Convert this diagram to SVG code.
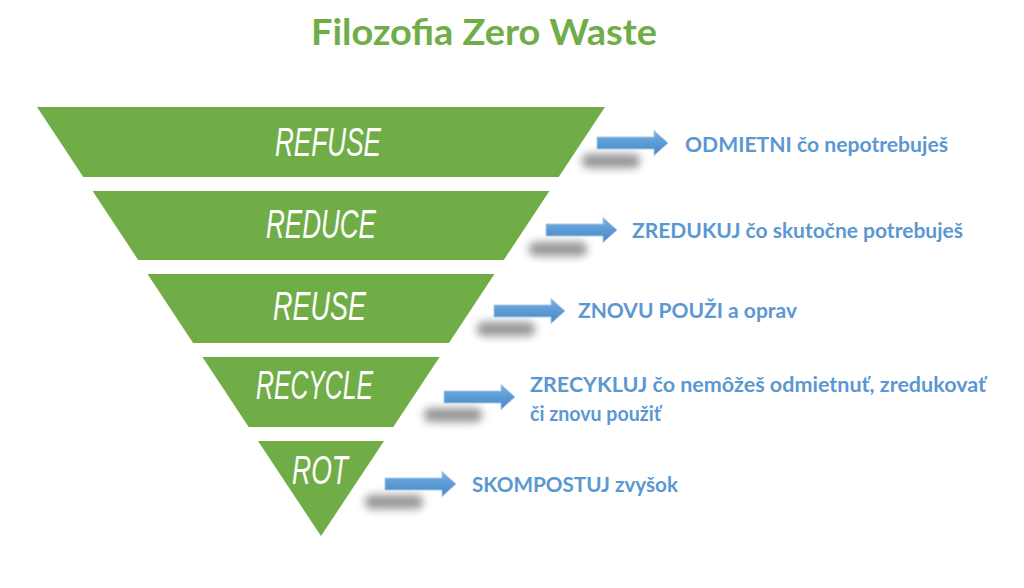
<svg xmlns="http://www.w3.org/2000/svg" width="1024" height="588" viewBox="0 0 1024 588">
  <style>
    .band { fill: #70AD47; }
    .tier { font-family: "Liberation Sans", Arial, sans-serif; font-style: italic; font-size: 40px; fill: #ffffff; }
    .desc { font-family: Lato, "Open Sans", "Liberation Sans", sans-serif; font-weight: 700; font-size: 20px; fill: #5B98D2; }
    .title { font-family: Lato, "Open Sans", "Liberation Sans", sans-serif; font-weight: 700; font-size: 36px; fill: #70AD47; }
    .arrow { fill: url(#blueGrad); stroke: #A9CBEB; stroke-width: 1; }
    .shadow { fill: #7a7a7a; opacity: 0.8; filter: url(#blur); }
  </style>
  <defs>
    <linearGradient id="blueGrad" x1="0" y1="0" x2="0" y2="1">
      <stop offset="0" stop-color="#7FB1E3"/>
      <stop offset="0.5" stop-color="#5B9BD5"/>
      <stop offset="1" stop-color="#4A86C4"/>
    </linearGradient>
    <filter id="blur" x="-50%" y="-100%" width="200%" height="300%">
      <feGaussianBlur stdDeviation="4.5"/>
    </filter>
    <path id="arr" d="M0,-6 L57,-6 L57,-12.5 L71,0 L57,12.5 L57,6 L0,6 Z"/>
  </defs>
  <rect width="1024" height="588" fill="#ffffff"/>

  <g id="title">
    <text class="title" x="311" y="45" textLength="346" lengthAdjust="spacingAndGlyphs">Filozofia Zero Waste</text>
  </g>

  <g id="tier-refuse">
    <polygon class="band" points="37,107 605,107 558.7,177 83.3,177"/>
    <text class="tier" x="275" y="156" textLength="106" lengthAdjust="spacingAndGlyphs">REFUSE</text>
  </g>
  <g id="tier-reduce">
    <polygon class="band" points="92.6,191 549.4,191 503.8,260 138.2,260"/>
    <text class="tier" x="266" y="238" textLength="110" lengthAdjust="spacingAndGlyphs">REDUCE</text>
  </g>
  <g id="tier-reuse">
    <polygon class="band" points="147.5,274 494.5,274 448.9,343 193.1,343"/>
    <text class="tier" x="273" y="320" textLength="93" lengthAdjust="spacingAndGlyphs">REUSE</text>
  </g>
  <g id="tier-recycle">
    <polygon class="band" points="202.4,357 439.6,357 393.3,427 248.7,427"/>
    <text class="tier" x="256" y="399" textLength="117" lengthAdjust="spacingAndGlyphs">RECYCLE</text>
  </g>
  <g id="tier-rot">
    <polygon class="band" points="258,441 384,441 321,536"/>
    <text class="tier" x="292" y="484" textLength="56" lengthAdjust="spacingAndGlyphs">ROT</text>
  </g>

  <g id="connectors">
    <g transform="translate(597,143)">
      <rect class="shadow" x="-15" y="11" width="58" height="14" rx="6"/>
      <use href="#arr" class="arrow"/>
    </g>
    <g transform="translate(546,230)">
      <rect class="shadow" x="-17" y="12" width="58" height="14" rx="6"/>
      <use href="#arr" class="arrow"/>
    </g>
    <g transform="translate(494,311)">
      <rect class="shadow" x="-17" y="11" width="58" height="14" rx="6"/>
      <use href="#arr" class="arrow"/>
    </g>
    <g transform="translate(444,397)">
      <rect class="shadow" x="-20" y="11" width="58" height="14" rx="6"/>
      <use href="#arr" class="arrow"/>
    </g>
    <g transform="translate(385,484)">
      <rect class="shadow" x="-20" y="11" width="58" height="14" rx="6"/>
      <use href="#arr" class="arrow"/>
    </g>
  </g>

  <g id="desc-refuse">
    <text class="desc" x="685" y="152" textLength="263" lengthAdjust="spacingAndGlyphs">ODMIETNI čo nepotrebuješ</text>
  </g>
  <g id="desc-reduce">
    <text class="desc" x="632" y="238" textLength="331" lengthAdjust="spacingAndGlyphs">ZREDUKUJ čo skutočne potrebuješ</text>
  </g>
  <g id="desc-reuse">
    <text class="desc" x="578" y="318" textLength="219" lengthAdjust="spacingAndGlyphs">ZNOVU POUŽI a oprav</text>
  </g>
  <g id="desc-recycle">
    <text class="desc" x="530" y="392" textLength="456" lengthAdjust="spacingAndGlyphs">ZRECYKLUJ čo nemôžeš odmietnuť, zredukovať</text>
    <text class="desc" x="530" y="421" textLength="131" lengthAdjust="spacingAndGlyphs">či znovu použiť</text>
  </g>
  <g id="desc-rot">
    <text class="desc" x="472" y="492" textLength="206" lengthAdjust="spacingAndGlyphs">SKOMPOSTUJ zvyšok</text>
  </g>
</svg>
